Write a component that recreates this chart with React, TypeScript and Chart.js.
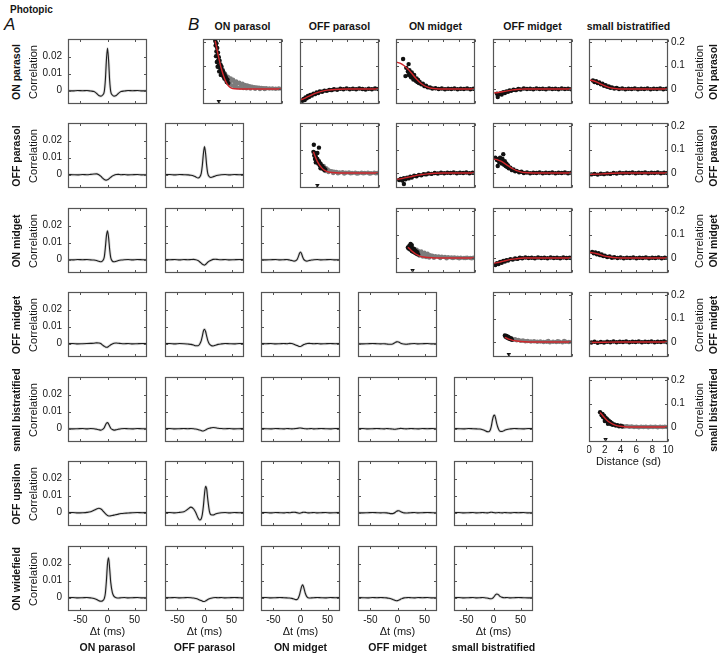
import React, { useEffect, useRef } from "react";
import { Chart, registerables } from "chart.js";

Chart.register(...registerables);

const FONT = '"Liberation Sans", Arial, Helvetica, sans-serif';

// ================= DATA =================
const ROW_TYPES = ["ON parasol", "OFF parasol", "ON midget", "OFF midget", "small bistratified", "OFF upsilon", "ON widefield"];
const COL_TYPES = ["ON parasol", "OFF parasol", "ON midget", "OFF midget", "small bistratified"];

const A_X_TICKS = [-50, 0, 50];
const A_Y_TICKS = [0, 0.01, 0.02];
const B_X_TICKS = [0, 2, 4, 6, 8, 10];
const B_Y_TICKS = [0, 0.1, 0.2];

const A_X_RANGE = [-73, 73];
const A_Y_RANGE = [-0.0078, 0.0304];
const B_X_RANGE = [0, 10];
const B_Y_RANGE = [-0.064, 0.213];

// Panel A: cross-correlation vs time lag (ms); values in units of 1e-3
const DT_MS = [-73, -64, -55, -46, -38, -31, -25, -20, -16, -12, -9, -6, -4, -2, 0, 2, 4, 6, 9, 12, 16, 20, 25, 31, 38, 46, 55, 64, 73];
const CC_SCALE = 0.001;

const A00 = [0.1, -0.1, 0.1, 0, 0.1, -0.2, -0.5, -1.6, -2.8, -3.2, -2.5, -0.5, 6, 18, 25, 18, 6, -0.5, -2.5, -3.2, -2.8, -1.6, -0.5, -0.2, 0.1, 0, 0.1, -0.1, 0.1];
const A10 = [0.1, 0, -0.1, 0.1, 0, 0.2, 0.4, 0.5, 0, -1.0, -2.0, -2.8, -3.1, -3.2, -3.0, -2.6, -2.0, -1.5, -0.8, -0.3, 0.1, 0.2, 0, 0.1, -0.1, 0, 0.1, -0.1, 0];
const A11 = [0, 0.1, -0.1, 0.1, 0, -0.1, -0.3, -0.7, -1.3, -1.9, -1.4, 0.8, 5.5, 12.5, 16.5, 12.5, 5.5, 0.8, -1.2, -1.6, -1.2, -0.7, -0.3, 0, 0.1, -0.1, 0.1, 0, 0.1];
const A20 = [0, -0.1, 0.1, 0, 0.1, -0.1, -0.2, -0.5, -0.9, -1.2, -0.6, 1.5, 7, 14, 17, 13, 6, 1.2, -0.8, -1.2, -0.9, -0.5, -0.2, 0, 0.1, -0.1, 0.1, 0, -0.1];
const A21 = [0.1, 0, 0.1, -0.1, 0.1, 0, 0.1, 0.2, 0, -0.5, -1.2, -2.0, -2.6, -3.0, -3.2, -2.8, -2.2, -1.5, -0.8, -0.3, 0.2, 0.3, 0.1, 0, 0.1, -0.1, 0, 0.1, 0];
const A22 = [0.1, -0.1, 0, 0.1, -0.1, 0, 0.1, -0.2, -0.5, -0.8, -0.6, 0.3, 1.8, 3.6, 4.5, 3.5, 1.6, 0.2, -0.6, -0.8, -0.5, -0.2, 0, 0.1, -0.1, 0, 0.1, -0.1, 0];
const A30 = [0, 0.1, -0.1, 0, 0.1, 0.2, 0.3, 0.5, 0.4, 0, -0.8, -1.5, -1.9, -2.1, -2.0, -1.6, -1.1, -0.6, -0.1, 0.3, 0.4, 0.3, 0.1, 0, 0.1, -0.1, 0, 0.1, 0];
const A31 = [0, 0.1, -0.1, 0.1, 0, -0.2, -0.4, -0.8, -1.2, -1.2, -0.3, 1.8, 4.5, 7.5, 8.5, 7.2, 4.5, 2, -0.2, -1.0, -1.3, -0.9, -0.4, -0.1, 0.1, 0, -0.1, 0.1, 0];
const A32 = [0.1, 0, 0.1, -0.1, 0, 0.1, 0, 0.2, 0.1, -0.3, -0.7, -1.1, -1.4, -1.6, -1.6, -1.3, -0.9, -0.5, -0.2, 0.1, 0.2, 0.1, 0, 0.1, -0.1, 0, 0.1, 0, 0.1];
const A33 = [0.1, -0.1, 0, 0.1, 0, -0.1, 0, -0.2, -0.3, -0.3, -0.1, 0.4, 0.8, 1.1, 1.2, 1.0, 0.7, 0.3, 0, -0.2, -0.3, -0.2, 0, 0.1, -0.1, 0, 0.1, -0.1, 0];
const A40 = [0.1, -0.1, 0, 0.1, -0.1, 0.1, 0, -0.3, -0.6, -0.8, -0.4, 0.6, 2.0, 3.2, 3.6, 2.8, 1.5, 0.3, -0.5, -0.8, -0.6, -0.3, 0, 0.1, 0, -0.1, 0.1, 0, 0];
const A41 = [0, 0.1, -0.1, 0, 0.1, 0, 0.1, 0, -0.2, -0.5, -0.8, -1.1, -1.3, -1.3, -1.1, -0.7, -0.3, 0, 0.3, 0.5, 0.7, 0.6, 0.3, 0.1, 0, 0.1, -0.1, 0, 0.1];
const A42 = [0.1, 0, -0.1, 0.1, 0, -0.1, 0.1, 0, -0.1, 0, 0.1, 0.2, 0.3, 0.4, 0.4, 0.3, 0.2, 0.1, 0, -0.1, 0, 0.1, -0.1, 0, 0.1, 0, -0.1, 0.1, 0];
const A43 = [0, 0.1, -0.1, 0, 0.1, 0, -0.1, 0.1, 0, -0.1, -0.2, -0.3, -0.3, -0.2, -0.1, 0, 0.1, 0.2, 0.1, 0, -0.1, 0, 0.1, 0, -0.1, 0.1, 0, 0.1, -0.1];
const A44 = [0.1, 0, -0.1, 0.1, 0, -0.1, -0.2, -0.6, -1.1, -1.7, -1.8, -0.8, 1.5, 5, 7.5, 8, 6, 3, 0, -1.5, -1.6, -1.0, -0.4, -0.1, 0.1, 0, -0.1, 0.1, 0];
const A50 = [0, 0.1, -0.1, 0, 0.2, 0.6, 1.4, 2.2, 2.6, 2.2, 1.3, 0.2, -0.5, -1.1, -1.6, -1.9, -1.9, -1.8, -1.6, -1.4, -1.1, -0.8, -0.5, -0.3, -0.2, 0, 0.1, 0, 0.1];
const A51 = [0, 0.1, -0.1, 0.2, 0.6, 2.0, 3.3, 2.2, 0, -3.0, -4.3, -3.5, -1.0, 4, 11, 15.5, 14, 8, 1, -1.2, -1.3, -0.8, -0.3, 0, 0.1, -0.1, 0.1, 0, 0.1];
const A52 = [0, 0.1, -0.1, 0.1, 0, -0.1, 0.1, 0, 0.2, 0.3, 0.2, 0, -0.2, -0.3, -0.2, 0, 0.2, 0.3, 0.2, 0, -0.1, 0, 0.1, -0.1, 0, 0.1, -0.1, 0, 0.1];
const A53 = [0.1, -0.1, 0, 0.1, 0, -0.1, 0, -0.1, -0.3, -0.5, -0.5, -0.2, 0.3, 0.8, 1.1, 1.2, 1.0, 0.6, 0.2, -0.1, -0.2, -0.1, 0, 0.1, -0.1, 0, 0.1, 0, -0.1];
const A54 = [0, 0.1, -0.1, 0, 0.1, -0.1, 0, 0.1, 0, -0.1, 0, 0.2, 0.3, 0.2, 0.1, 0, -0.1, 0, 0.1, 0, -0.1, 0.1, 0, -0.1, 0.1, 0, 0.1, -0.1, 0];
const A60 = [0, 0.1, -0.1, 0, 0.1, -0.1, -0.4, -1.0, -1.8, -2.1, -1.8, -0.5, 2.5, 10, 20, 23.5, 17, 9, 3, 0.8, 0, -0.2, 0, 0.1, -0.1, 0, 0.1, -0.1, 0];
const A61 = [0.1, 0, 0.1, -0.1, 0, 0.1, 0, -0.2, -0.5, -0.9, -1.3, -1.7, -2.0, -2.2, -2.2, -1.9, -1.5, -1.1, -0.6, -0.3, 0, 0.1, 0, 0.1, -0.1, 0, 0.1, 0, -0.1];
const A62 = [0, 0.1, -0.1, 0, 0.1, 0, -0.1, -0.2, -0.4, -0.8, -1.1, -1.0, -0.2, 1.5, 4, 6.5, 7.6, 6, 2.5, 0.5, -0.2, -0.1, 0, 0.1, 0, -0.1, 0.1, 0, 0.1];
const A63 = [0.1, 0, -0.1, 0.1, 0, 0.1, 0, -0.1, -0.3, -0.6, -1.0, -1.3, -1.6, -1.8, -1.7, -1.5, -1.2, -0.8, -0.4, -0.1, 0, 0.1, 0, -0.1, 0.1, 0, 0.1, -0.1, 0];
const A64 = [0, 0.1, -0.1, 0, 0.1, -0.1, 0, 0.1, 0, -0.2, -0.4, -0.6, -0.6, -0.4, 0.2, 1.0, 1.8, 2.2, 1.8, 0.8, 0.2, 0, 0.1, -0.1, 0, 0.1, 0, -0.1, 0.1];

const A_CURVES = [
  [A00],
  [A10, A11],
  [A20, A21, A22],
  [A30, A31, A32, A33],
  [A40, A41, A42, A43, A44],
  [A50, A51, A52, A53, A54],
  [A60, A61, A62, A63, A64],
];

// Panel B: correlation vs distance (sd); [distance, correlation]
const B00_DOTS = [[1.55, 0.205], [1.6, 0.185], [1.7, 0.195], [1.7, 0.16], [1.8, 0.175], [1.8, 0.14], [1.9, 0.155], [1.9, 0.12], [2.0, 0.135], [2.0, 0.1], [2.1, 0.12], [2.15, 0.09], [2.2, 0.105], [2.3, 0.08], [2.35, 0.095], [2.4, 0.065], [2.5, 0.08], [2.55, 0.055], [2.6, 0.07], [2.7, 0.045], [2.75, 0.06], [2.85, 0.04], [2.9, 0.05], [3.0, 0.03], [3.1, 0.04], [3.2, 0.025], [1.75, 0.115], [1.85, 0.095], [2.05, 0.075], [2.25, 0.06], [1.65, 0.14]];
const B00_GRAY = [[2.8, 0.065], [3.0, 0.055], [3.2, 0.05], [3.3, 0.04], [3.5, 0.045], [3.6, 0.035], [3.8, 0.04], [4.0, 0.03], [4.2, 0.032], [4.4, 0.025], [4.6, 0.027], [4.8, 0.02], [5.0, 0.022], [5.3, 0.017], [5.6, 0.015], [5.9, 0.012], [6.2, 0.01], [6.5, 0.008], [6.8, 0.006], [7.1, 0.005], [7.4, 0.004], [7.7, 0.003], [8.0, 0.003], [8.4, 0.002], [8.8, 0.002], [9.2, 0.001], [9.6, 0.002], [10.0, 0.001], [3.4, 0.02], [3.7, 0.015], [4.0, 0.012], [4.3, 0.008], [4.7, 0.006], [5.1, 0.004], [5.5, 0.003], [6.0, 0.002], [6.6, 0.001], [7.2, 0], [7.8, 0], [3.2, 0.03], [4.1, 0.018], [5.4, 0.009]];
const B00_FIT = [[1.55, 0.205], [1.7, 0.18], [1.85, 0.155], [2.0, 0.132], [2.2, 0.102], [2.4, 0.078], [2.6, 0.056], [2.8, 0.038], [3.0, 0.024], [3.3, 0.011], [3.6, 0.004], [4.0, 0.001], [5, 0], [6, 0], [7, 0], [8, 0], [9, 0], [10, 0]];

const B01_DOTS = [[0.3, -0.05], [0.45, -0.042], [0.6, -0.047], [0.7, -0.036], [0.85, -0.04], [1.0, -0.03], [1.15, -0.034], [1.3, -0.025], [1.5, -0.028], [1.7, -0.02], [1.9, -0.022], [2.1, -0.015], [2.3, -0.017], [2.5, -0.011], [2.8, -0.012], [3.1, -0.007], [3.4, -0.008], [3.7, -0.004], [4.0, -0.005], [4.3, -0.001], [4.7, -0.003], [5.1, 0.001], [5.5, -0.001], [5.9, 0.002], [6.3, -0.001], [6.7, 0.001], [7.1, -0.001], [7.5, 0.002], [7.9, 0], [8.3, -0.002], [8.7, 0.001], [9.1, -0.001], [9.5, 0.002], [9.9, 0]];
const B01_FIT = [[0, -0.047], [0.5, -0.041], [1, -0.033], [1.5, -0.025], [2, -0.018], [2.5, -0.012], [3, -0.008], [3.5, -0.005], [4, -0.003], [5, -0.001], [6, 0], [7, 0], [8, 0], [9, 0], [10, 0]];

const B02_DOTS = [[0.9, 0.128], [1.6, 0.106], [1.2, 0.055], [1.3, 0.09], [1.5, 0.075], [1.6, 0.06], [1.7, 0.08], [1.8, 0.065], [1.9, 0.05], [2.0, 0.07], [2.1, 0.055], [2.2, 0.04], [2.3, 0.06], [2.4, 0.045], [2.5, 0.035], [2.6, 0.045], [2.7, 0.03], [2.8, 0.038], [2.9, 0.025], [3.0, 0.03], [3.2, 0.02], [3.4, 0.022], [3.6, 0.012], [3.8, 0.014], [4.0, 0.007], [4.3, 0.006], [4.6, 0.002], [5.0, 0.003], [5.4, 0], [5.8, 0.002], [6.2, -0.001], [6.6, 0.001], [7.0, 0], [7.4, 0.002], [7.8, -0.001], [8.2, 0.001], [8.6, 0], [9.0, 0.002], [9.4, -0.001], [9.8, 0.001], [10, 0]];
const B02_FIT = [[0, 0.115], [0.5, 0.11], [1, 0.1], [1.5, 0.085], [2, 0.066], [2.5, 0.046], [3, 0.029], [3.5, 0.016], [4, 0.008], [4.5, 0.003], [5, 0.001], [6, 0], [7, 0], [8, 0], [9, 0], [10, 0]];

const B03_DOTS = [[0.6, -0.034], [0.5, -0.02], [0.8, -0.022], [1.0, -0.018], [1.1, -0.024], [1.3, -0.014], [1.5, -0.017], [1.7, -0.01], [1.9, -0.012], [2.1, -0.006], [2.3, -0.008], [2.6, -0.003], [2.9, -0.005], [3.2, 0], [3.5, -0.002], [3.9, 0.002], [4.3, 0], [4.7, 0.001], [5.1, -0.001], [5.5, 0.002], [5.9, 0], [6.3, 0.001], [6.7, -0.001], [7.1, 0.002], [7.5, 0], [7.9, 0.001], [8.3, -0.001], [8.7, 0.002], [9.1, 0], [9.5, 0.001], [9.9, -0.001]];
const B03_FIT = [[0, -0.017], [0.5, -0.016], [1, -0.013], [1.5, -0.01], [2, -0.007], [2.5, -0.004], [3, -0.002], [3.5, -0.001], [4, 0], [5, 0], [10, 0]];

const B04_DOTS = [[0.5, 0.036], [0.7, 0.03], [0.9, 0.033], [1.1, 0.025], [1.3, 0.028], [1.5, 0.02], [1.7, 0.022], [1.9, 0.014], [2.1, 0.016], [2.3, 0.009], [2.5, 0.011], [2.7, 0.005], [2.9, 0.007], [3.2, 0.002], [3.5, 0.004], [3.8, 0], [4.2, 0.002], [4.6, -0.001], [5.0, 0.001], [5.4, 0], [5.8, 0.002], [6.2, -0.001], [6.6, 0.001], [7.0, 0], [7.4, 0.002], [7.8, -0.001], [8.2, 0.001], [8.6, 0], [9.0, 0.002], [9.4, -0.001], [9.8, 0.001]];
const B04_FIT = [[0, 0.038], [0.5, 0.035], [1, 0.029], [1.5, 0.021], [2, 0.013], [2.5, 0.007], [3, 0.003], [3.5, 0.001], [4, 0], [5, 0], [10, 0]];

const B11_DOTS = [[1.75, 0.12], [2.4, 0.108], [1.7, 0.09], [1.8, 0.075], [1.9, 0.085], [1.9, 0.06], [2.0, 0.07], [2.1, 0.05], [2.2, 0.06], [2.3, 0.04], [2.4, 0.05], [2.5, 0.032], [2.6, 0.04], [2.7, 0.025], [2.8, 0.03], [2.9, 0.018], [3.0, 0.022], [3.1, 0.012], [3.2, 0.015], [2.2, 0.085], [2.0, 0.045], [2.6, 0.02]];
const B11_GRAY = [[3.0, 0.03], [3.3, 0.02], [3.5, 0.015], [3.7, 0.01], [4.0, 0.008], [4.3, 0.005], [4.6, 0.004], [5.0, 0.002], [5.4, 0.003], [5.8, 0.001], [6.2, 0.002], [6.6, 0], [7.0, 0.001], [7.4, -0.001], [7.8, 0.001], [8.2, 0], [8.6, 0.001], [9.0, -0.001], [9.4, 0.001], [9.8, 0], [10, 0.001], [3.2, 0.008], [3.6, 0.004], [4.2, 0], [4.8, -0.001], [5.6, -0.002], [6.4, -0.001], [7.2, -0.002], [8.0, -0.001], [8.8, -0.002], [9.6, -0.001]];
const B11_FIT = [[1.7, 0.09], [1.9, 0.072], [2.1, 0.056], [2.3, 0.043], [2.5, 0.032], [2.7, 0.024], [3.0, 0.014], [3.3, 0.008], [3.6, 0.004], [4, 0.002], [5, 0], [6, 0], [8, 0], [10, 0]];

const B12_DOTS = [[0.4, -0.03], [1.0, -0.047], [0.6, -0.025], [0.8, -0.032], [1.0, -0.022], [1.2, -0.027], [1.4, -0.02], [1.6, -0.023], [1.8, -0.016], [2.0, -0.019], [2.3, -0.012], [2.6, -0.014], [2.9, -0.008], [3.2, -0.01], [3.5, -0.005], [3.8, -0.006], [4.1, -0.002], [4.5, -0.004], [4.9, 0], [5.3, -0.002], [5.7, 0.001], [6.1, -0.001], [6.5, 0.001], [6.9, 0], [7.3, 0.002], [7.7, -0.001], [8.1, 0.001], [8.5, 0], [8.9, 0.002], [9.3, -0.001], [9.7, 0.001], [10, 0]];
const B12_FIT = [[0, -0.027], [0.5, -0.025], [1, -0.022], [1.5, -0.018], [2, -0.015], [2.5, -0.011], [3, -0.008], [3.5, -0.006], [4, -0.004], [4.5, -0.002], [5, -0.001], [6, 0], [8, 0], [10, 0]];

const B13_DOTS = [[0.3, 0.065], [0.6, 0.03], [1.3, 0.08], [0.5, 0.055], [0.7, 0.06], [0.8, 0.045], [0.9, 0.065], [1.0, 0.05], [1.1, 0.04], [1.2, 0.06], [1.3, 0.045], [1.4, 0.035], [1.5, 0.05], [1.6, 0.03], [1.7, 0.04], [1.8, 0.025], [1.9, 0.032], [2.0, 0.02], [2.2, 0.022], [2.4, 0.012], [2.6, 0.015], [2.8, 0.007], [3.0, 0.009], [3.3, 0.003], [3.6, 0.005], [3.9, 0], [4.3, 0.002], [4.7, -0.001], [5.1, 0.001], [5.5, 0], [5.9, 0.002], [6.3, -0.001], [6.7, 0.001], [7.1, 0], [7.5, 0.002], [7.9, -0.001], [8.3, 0.001], [8.7, 0], [9.1, 0.002], [9.5, -0.001], [9.9, 0.001]];
const B13_FIT = [[0, 0.06], [0.5, 0.057], [1, 0.05], [1.5, 0.04], [2, 0.029], [2.5, 0.018], [3, 0.01], [3.5, 0.005], [4, 0.002], [5, 0], [6, 0], [8, 0], [10, 0]];

const B14_DOTS = [[0.3, -0.006], [0.7, -0.004], [1.1, -0.007], [1.5, -0.003], [1.9, -0.005], [2.3, -0.002], [2.7, -0.004], [3.1, 0], [3.5, -0.002], [3.9, 0.001], [4.3, -0.001], [4.7, 0.001], [5.1, 0], [5.5, 0.002], [5.9, -0.001], [6.3, 0.001], [6.7, 0], [7.1, 0.002], [7.5, -0.001], [7.9, 0.001], [8.3, 0], [8.7, 0.002], [9.1, -0.001], [9.5, 0.001], [9.9, 0]];
const B14_FIT = [[0, -0.006], [1, -0.005], [2, -0.003], [3, -0.001], [4, 0], [5, 0], [10, 0]];

const B22_DOTS = [[1.5, 0.045], [1.6, 0.04], [1.7, 0.052], [1.8, 0.036], [1.9, 0.048], [2.0, 0.055], [2.0, 0.03], [2.1, 0.042], [2.2, 0.026], [2.3, 0.038], [2.4, 0.022], [2.5, 0.03], [2.6, 0.018], [2.7, 0.025], [2.8, 0.015], [1.85, 0.06]];
const B22_GRAY = [[2.6, 0.035], [2.8, 0.03], [3.0, 0.025], [3.2, 0.028], [3.4, 0.02], [3.6, 0.022], [3.8, 0.016], [4.0, 0.018], [4.3, 0.012], [4.6, 0.01], [5.0, 0.008], [5.4, 0.006], [5.8, 0.005], [6.2, 0.004], [6.6, 0.003], [7.0, 0.002], [7.4, 0.002], [7.8, 0.001], [8.2, 0.001], [8.6, 0], [9.0, 0.001], [9.4, 0], [9.8, 0.001], [10, 0], [3.0, 0.01], [3.4, 0.006], [3.8, 0.004], [4.2, 0.002], [4.8, 0.001], [5.6, 0], [6.4, -0.001], [7.2, 0], [8.0, -0.001], [8.8, 0], [9.6, -0.001]];
const B22_FIT = [[1.5, 0.046], [1.75, 0.038], [2, 0.03], [2.25, 0.023], [2.5, 0.017], [2.75, 0.012], [3, 0.008], [3.5, 0.004], [4, 0.002], [5, 0], [6, 0], [8, 0], [10, 0]];

const B23_DOTS = [[0.3, -0.03], [0.5, -0.022], [0.7, -0.026], [0.9, -0.017], [1.1, -0.02], [1.3, -0.013], [1.5, -0.015], [1.7, -0.009], [1.9, -0.011], [2.2, -0.005], [2.5, -0.007], [2.8, -0.002], [3.1, -0.004], [3.4, 0.001], [3.7, -0.001], [4.1, 0.002], [4.5, 0], [4.9, 0.001], [5.3, -0.001], [5.7, 0.002], [6.1, 0], [6.5, 0.001], [6.9, -0.001], [7.3, 0.002], [7.7, 0], [8.1, 0.001], [8.5, -0.001], [8.9, 0.002], [9.3, 0], [9.7, 0.001], [10, -0.001]];
const B23_FIT = [[0, -0.023], [0.5, -0.02], [1, -0.016], [1.5, -0.012], [2, -0.008], [2.5, -0.005], [3, -0.003], [3.5, -0.001], [4, 0], [5, 0], [10, 0]];

const B24_DOTS = [[0.4, 0.026], [0.6, 0.02], [0.8, 0.024], [1.0, 0.016], [1.2, 0.02], [1.4, 0.012], [1.6, 0.015], [1.8, 0.008], [2.0, 0.01], [2.3, 0.004], [2.6, 0.006], [2.9, 0.001], [3.2, 0.003], [3.6, 0], [4.0, 0.002], [4.4, -0.001], [4.8, 0.001], [5.2, 0], [5.6, 0.002], [6.0, -0.001], [6.4, 0.001], [6.8, 0], [7.2, 0.002], [7.6, -0.001], [8.0, 0.001], [8.4, 0], [8.8, 0.002], [9.2, -0.001], [9.6, 0.001], [10, 0]];
const B24_FIT = [[0, 0.024], [0.5, 0.022], [1, 0.018], [1.5, 0.013], [2, 0.008], [2.5, 0.005], [3, 0.002], [3.5, 0.001], [4, 0], [5, 0], [10, 0]];

const B33_DOTS = [[1.5, 0.028], [1.6, 0.022], [1.7, 0.026], [1.8, 0.018], [1.9, 0.022], [2.0, 0.015], [2.1, 0.018], [2.2, 0.012], [2.3, 0.015], [2.4, 0.009]];
const B33_GRAY = [[2.4, 0.014], [2.6, 0.01], [2.8, 0.012], [3.0, 0.007], [3.2, 0.009], [3.5, 0.005], [3.8, 0.006], [4.1, 0.003], [4.4, 0.004], [4.8, 0.002], [5.2, 0.003], [5.6, 0.001], [6.0, 0.002], [6.4, 0], [6.8, 0.001], [7.2, -0.001], [7.6, 0.001], [8.0, 0], [8.4, 0.001], [8.8, -0.001], [9.2, 0.001], [9.6, 0], [10, 0.001], [7.0, 0.004], [8.2, 0.003], [9.0, 0.004]];
const B33_FIT = [[1.5, 0.02], [1.75, 0.016], [2, 0.012], [2.5, 0.007], [3, 0.004], [3.5, 0.002], [4, 0.001], [5, 0], [6, 0], [8, 0], [10, 0]];

const B34_DOTS = [[0.3, -0.002], [0.7, 0.001], [1.1, -0.003], [1.5, 0], [1.9, -0.002], [2.3, 0.001], [2.7, -0.001], [3.1, 0.002], [3.5, -0.001], [3.9, 0.001], [4.3, 0], [4.7, 0.002], [5.1, -0.001], [5.5, 0.001], [5.9, 0], [6.3, 0.002], [6.7, -0.001], [7.1, 0.001], [7.5, 0], [7.9, 0.002], [8.3, -0.001], [8.7, 0.001], [9.1, 0], [9.5, 0.002], [9.9, -0.001]];
const B34_FIT = [[0, -0.002], [2, -0.001], [4, 0], [10, 0]];

const B44_DOTS = [[1.4, 0.063], [1.6, 0.05], [1.7, 0.056], [1.8, 0.042], [1.9, 0.048], [2.0, 0.035], [2.1, 0.04], [2.2, 0.028], [2.3, 0.033], [2.4, 0.022], [2.5, 0.027], [2.6, 0.017], [2.7, 0.021], [2.8, 0.012], [2.9, 0.016], [3.0, 0.009], [3.2, 0.011], [3.4, 0.006], [3.6, 0.008], [3.8, 0.003], [4.0, 0.005], [4.2, 0.002], [2.0, 0.025], [2.4, 0.014]];
const B44_GRAY = [[4.2, 0.004], [4.5, 0.002], [4.8, 0.003], [5.1, 0.001], [5.4, 0.002], [5.7, 0], [6.0, 0.001], [6.3, -0.001], [6.6, 0.001], [6.9, 0], [7.2, 0.001], [7.5, -0.001], [7.8, 0.001], [8.1, 0], [8.4, 0.001], [8.7, -0.001], [9.0, 0.001], [9.3, 0], [9.6, 0.001], [9.9, 0]];
const B44_FIT = [[1.4, 0.062], [1.7, 0.05], [2, 0.038], [2.3, 0.028], [2.6, 0.02], [3, 0.012], [3.5, 0.006], [4, 0.003], [4.5, 0.001], [5, 0], [6, 0], [8, 0], [10, 0]];

// receptive-field distance marker (triangle) in diagonal panels
const MARKER_X = [2.0, 2.2, 2.1, 2.0, 2.1];

const B_PANELS: any[][] = [
  [{ dots: B00_DOTS, gray: B00_GRAY, fit: B00_FIT }, { dots: B01_DOTS, fit: B01_FIT }, { dots: B02_DOTS, fit: B02_FIT }, { dots: B03_DOTS, fit: B03_FIT }, { dots: B04_DOTS, fit: B04_FIT }],
  [null, { dots: B11_DOTS, gray: B11_GRAY, fit: B11_FIT }, { dots: B12_DOTS, fit: B12_FIT }, { dots: B13_DOTS, fit: B13_FIT }, { dots: B14_DOTS, fit: B14_FIT }],
  [null, null, { dots: B22_DOTS, gray: B22_GRAY, fit: B22_FIT }, { dots: B23_DOTS, fit: B23_FIT }, { dots: B24_DOTS, fit: B24_FIT }],
  [null, null, null, { dots: B33_DOTS, gray: B33_GRAY, fit: B33_FIT }, { dots: B34_DOTS, fit: B34_FIT }],
  [null, null, null, null, { dots: B44_DOTS, gray: B44_GRAY, fit: B44_FIT }],
];

// ================= LAYOUT / STYLE =================
const A_COL_LEFT = [68, 165, 261, 358, 454];
const B_COL_LEFT = [203, 300, 396, 493, 589];
const ROW_TOP = [39, 123, 208, 292, 377, 461, 546];
const BOX_W = 79;
const BOX_H = 65;

const TEXT = "#141414";
const FRAME = "#555555";
const CURVE = "#1e1e1e";
const CURVE_BAND = "rgba(165,165,165,0.4)";
const RED = "#d0262b";
const DOT = "#111111";
const GRAY_DOT = "#7c7c7c";
const TICK_LEN = 2.5;
const DOT_R = 2.2;

const framePlugin = {
  id: "frame",
  afterDatasetsDraw(chart: any, _args: any, opts: any) {
    const { ctx, chartArea } = chart;
    const xs = chart.scales.x;
    const ys = chart.scales.y;
    const l = Math.round(chartArea.left) + 0.5;
    const r = Math.round(chartArea.right) - 0.5;
    const t = Math.round(chartArea.top) + 0.5;
    const b = Math.round(chartArea.bottom) - 0.5;
    ctx.save();
    ctx.strokeStyle = FRAME;
    ctx.lineWidth = 1.2;
    ctx.strokeRect(l, t, r - l, b - t);
    ctx.beginPath();
    ctx.lineWidth = 1;
    for (const v of opts.xTicks) {
      const px = Math.round(xs.getPixelForValue(v)) + 0.5;
      ctx.moveTo(px, b); ctx.lineTo(px, b - TICK_LEN);
      ctx.moveTo(px, t); ctx.lineTo(px, t + TICK_LEN);
    }
    for (const v of opts.yTicks) {
      const py = Math.round(ys.getPixelForValue(v)) + 0.5;
      ctx.moveTo(l, py); ctx.lineTo(l + TICK_LEN, py);
      ctx.moveTo(r, py); ctx.lineTo(r - TICK_LEN, py);
    }
    ctx.stroke();
    ctx.restore();
  },
};

function makeAxis(range: number[], ticks: number[], showLabels: boolean, fixed: number, isX: boolean, pad: number, position: string) {
  return {
    type: "linear",
    position,
    min: range[0],
    max: range[1],
    display: true,
    grid: { display: false, drawTicks: false },
    border: { display: false },
    ticks: {
      display: showLabels,
      padding: pad,
      font: { family: FONT, size: 10 },
      color: TEXT,
      autoSkip: false,
      maxRotation: 0,
      minRotation: 0,
      callback: (v: any) => String(v),
    },
    afterBuildTicks: (s: any) => {
      s.ticks = ticks.map((v) => ({ value: v }));
    },
    afterFit: (s: any) => {
      if (isX) s.height = fixed;
      else s.width = fixed;
      s.paddingTop = 0;
      s.paddingBottom = 0;
      s.paddingLeft = 0;
      s.paddingRight = 0;
    },
  };
}

function baseOptions(padding: any, frame: any, scales: any) {
  return {
    responsive: false,
    maintainAspectRatio: false,
    animation: false,
    devicePixelRatio: 1,
    events: [],
    layout: { padding, autoPadding: false },
    plugins: { legend: { display: false }, tooltip: { enabled: false }, frame },
    scales,
  };
}

function toXY(pairs: number[][]) {
  return pairs.map(([x, y]) => ({ x, y }));
}

function makeAConfig(r: number, c: number, g: any) {
  const vals = A_CURVES[r][c];
  const pts = () => DT_MS.map((t, i) => ({ x: t, y: vals[i] * CC_SCALE }));
  return {
    type: "line",
    data: {
      datasets: [
        { data: pts(), borderColor: CURVE, borderWidth: 1.1, pointRadius: 0, cubicInterpolationMode: "monotone", fill: false },
        { data: pts(), borderColor: CURVE_BAND, borderWidth: 2.8, pointRadius: 0, cubicInterpolationMode: "monotone", fill: false },
      ],
    },
    options: baseOptions(
      { left: 0, right: g.mr, top: g.mt, bottom: 0 },
      { xTicks: A_X_TICKS, yTicks: A_Y_TICKS },
      {
        x: makeAxis(A_X_RANGE, A_X_TICKS, g.showX, g.mb, true, 3, "bottom"),
        y: makeAxis(A_Y_RANGE, A_Y_TICKS, g.showY, g.ml, false, 6, "left"),
      }
    ),
    plugins: [framePlugin],
  };
}

function makeBConfig(r: number, c: number, g: any) {
  const p = B_PANELS[r][c];
  const datasets: any[] = [];
  datasets.push({ data: toXY(p.fit), borderColor: RED, borderWidth: 1.4, pointRadius: 0, cubicInterpolationMode: "monotone", fill: false });
  if (r === c) {
    datasets.push({
      data: [{ x: MARKER_X[r], y: B_Y_RANGE[0] + 0.011 }],
      showLine: false, pointStyle: "triangle", rotation: 180, pointRadius: 2.6,
      backgroundColor: DOT, borderColor: DOT, borderWidth: 0,
    });
  }
  datasets.push({ data: toXY(p.dots), showLine: false, pointRadius: DOT_R, backgroundColor: DOT, borderWidth: 0 });
  if (p.gray) datasets.push({ data: toXY(p.gray), showLine: false, pointRadius: DOT_R, backgroundColor: GRAY_DOT, borderWidth: 0 });
  return {
    type: "line",
    data: { datasets },
    options: baseOptions(
      { left: g.ml, right: 0, top: g.mt, bottom: 0 },
      { xTicks: B_X_TICKS, yTicks: B_Y_TICKS },
      {
        x: makeAxis(B_X_RANGE, B_X_TICKS, g.showX, g.mb, true, 2, "bottom"),
        y: makeAxis(B_Y_RANGE, B_Y_TICKS, g.showY, g.mr, false, 3, "right"),
      }
    ),
    plugins: [framePlugin],
  };
}

function ChartCanvas({ left, top, width, height, makeConfig }: any) {
  const ref = useRef<HTMLCanvasElement>(null);
  useEffect(() => {
    const chart = new Chart(ref.current as HTMLCanvasElement, makeConfig());
    return () => chart.destroy();
  }, []);
  return (
    <canvas
      ref={ref}
      width={width}
      height={height}
      style={{ position: "absolute", left, top, width, height }}
    />
  );
}

function Label({ x, y, text, size = 11, bold = false, italic = false, rotate = false, anchor = "center" }: any) {
  const tx = anchor === "center" ? "-50%" : "0";
  return (
    <div
      style={{
        position: "absolute",
        left: x,
        top: y,
        transform: `translate(${tx},-50%)${rotate ? " rotate(-90deg)" : ""}`,
        whiteSpace: "nowrap",
        fontFamily: FONT,
        fontSize: size,
        fontWeight: bold ? 700 : 400,
        fontStyle: italic ? "italic" : "normal",
        lineHeight: 1,
        color: TEXT,
      }}
    >
      {text}
    </div>
  );
}

export default function App() {
  const charts: any[] = [];
  const labels: any[] = [];

  // Panel A (lower triangle)
  for (let r = 0; r < 7; r++) {
    for (let c = 0; c <= Math.min(r, 4); c++) {
      const showY = c === 0;
      const showX = r === 6;
      const g = { ml: showY ? 40 : 2, mr: 2, mt: 2, mb: showX ? 22 : 2, showX, showY };
      const left = A_COL_LEFT[c] - g.ml;
      const top = ROW_TOP[r] - g.mt;
      charts.push(
        <ChartCanvas
          key={`a${r}${c}`}
          left={left}
          top={top}
          width={BOX_W + g.ml + g.mr}
          height={BOX_H + g.mt + g.mb}
          makeConfig={() => makeAConfig(r, c, g)}
        />
      );
    }
  }

  // Panel B (upper triangle)
  for (let r = 0; r < 5; r++) {
    for (let c = r; c < 5; c++) {
      const showY = c === 4;
      const showX = r === 4 && c === 4;
      const g = { ml: 2, mr: showY ? 30 : 2, mt: 2, mb: showX ? 20 : 2, showX, showY };
      const left = B_COL_LEFT[c] - g.ml;
      const top = ROW_TOP[r] - g.mt;
      charts.push(
        <ChartCanvas
          key={`b${r}${c}`}
          left={left}
          top={top}
          width={BOX_W + g.ml + g.mr}
          height={BOX_H + g.mt + g.mb}
          makeConfig={() => makeBConfig(r, c, g)}
        />
      );
    }
  }

  // Text
  labels.push(<Label key="photopic" x={10} y={10} text="Photopic" size={10} bold anchor="left" />);
  labels.push(<Label key="A" x={4} y={24} text="A" size={17} italic anchor="left" />);
  labels.push(<Label key="B" x={188} y={24} text="B" size={17} italic anchor="left" />);

  for (let r = 0; r < 7; r++) {
    const cy = ROW_TOP[r] + BOX_H / 2;
    labels.push(<Label key={`rl${r}`} x={16} y={cy} text={ROW_TYPES[r]} size={10.5} bold rotate />);
    labels.push(<Label key={`rc${r}`} x={33} y={cy} text="Correlation" size={11} rotate />);
  }
  for (let r = 0; r < 5; r++) {
    const cy = ROW_TOP[r] + BOX_H / 2;
    labels.push(<Label key={`rrc${r}`} x={699} y={cy} text="Correlation" size={11} rotate />);
    labels.push(<Label key={`rrl${r}`} x={713} y={cy} text={ROW_TYPES[r]} size={10.5} bold rotate />);
  }
  for (let c = 0; c < 5; c++) {
    labels.push(<Label key={`bh${c}`} x={B_COL_LEFT[c] + BOX_W / 2} y={26} text={COL_TYPES[c]} size={10.5} bold />);
    labels.push(<Label key={`ax${c}`} x={A_COL_LEFT[c] + BOX_W / 2} y={631} text={"\u0394t (ms)"} size={11} />);
    labels.push(<Label key={`ac${c}`} x={A_COL_LEFT[c] + BOX_W / 2} y={647} text={COL_TYPES[c]} size={10.5} bold />);
  }
  labels.push(<Label key="dist" x={B_COL_LEFT[4] + BOX_W / 2} y={461} text="Distance (sd)" size={11} />);

  return (
    <div style={{ position: "absolute", left: 0, top: 0, width: 720, height: 653, background: "#fff", overflow: "hidden" }}>
      {charts}
      {labels}
    </div>
  );
}
